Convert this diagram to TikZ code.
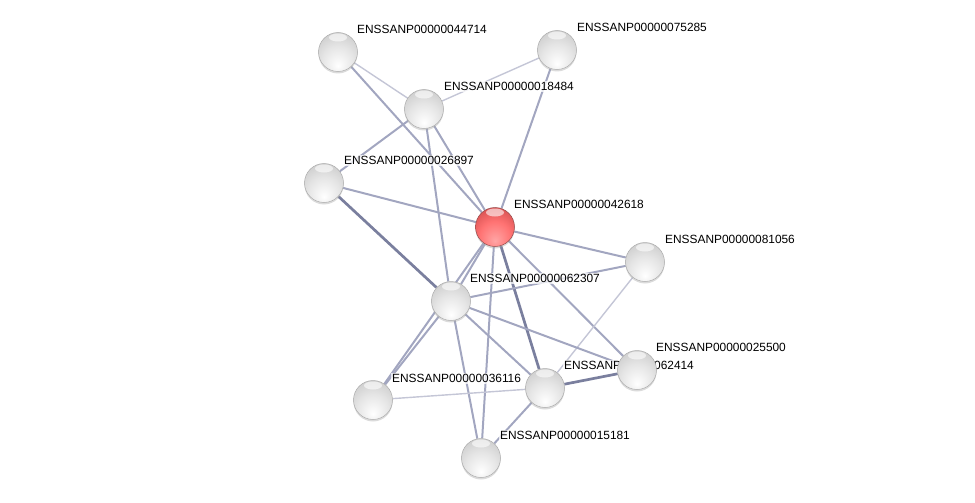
\documentclass[tikz,border=0pt]{standalone}
\usepackage{fontspec}
\setmainfont{Liberation Sans}
\usepackage{tikz}
\usetikzlibrary{backgrounds,shadows}
\definecolor{edgelight}{RGB}{196,198,214}
\definecolor{edgemid}{RGB}{162,166,192}
\definecolor{edgedark}{RGB}{122,127,158}
\pgfdeclareradialshading{greyball}{\pgfpoint{0bp}{-18bp}}{%
  color(0bp)=(white); color(20bp)=(gray!20); color(40bp)=(gray!45);
  color(55bp)=(gray!65); color(70bp)=(gray!85)}
\pgfdeclareradialshading{redball}{\pgfpoint{0bp}{-18bp}}{%
  color(0bp)=(red!35!white); color(20bp)=(red!55!white); color(40bp)=(red!65!white!80!black);
  color(55bp)=(red!60!black); color(70bp)=(red!40!black)}
\tikzset{
  prot/.style={circle, minimum size=39pt, inner sep=0pt, shading=greyball,
    draw=gray!65, line width=.5pt,
    drop shadow={shadow xshift=0pt, shadow yshift=-2pt, opacity=.4, fill=gray!70},
    path picture={\fill[white, opacity=.6] ([yshift=-5pt]path picture bounding box.north)
      ellipse (9pt and 4pt);}},
  query/.style={prot, shading=redball, draw=red!40!black!70},
  lbl/.style={anchor=west, inner sep=1pt, fill=white, fill opacity=.75, text opacity=1,
    font=\fontsize{11.9}{14}\selectfont},
  light/.style={draw=edgelight, line width=1.4pt},
  mid/.style={draw=edgemid, line width=2pt},
  dark/.style={draw=edgedark, line width=2.7pt},
}
\begin{document}
\begin{tikzpicture}[x=1pt, y=-1pt]
  \useasboundingbox (0,0) rectangle (975,503);

  % labels (under the proteins)
  \node[lbl] (tA) at (356,29.5) {ENSSANP00000044714};
  \node[lbl] (tB) at (576,27.5) {ENSSANP00000075285};
  \node[lbl] (tC) at (443,86.5) {ENSSANP00000018484};
  \node[lbl] (tD) at (343,160.5) {ENSSANP00000026897};
  \node[lbl] (tE) at (513,204.5) {ENSSANP00000042618};
  \node[lbl] (tF) at (664,239.5) {ENSSANP00000081056};
  \node[lbl] (tG) at (469,278.5) {ENSSANP00000062307};
  \node[lbl] (tI) at (563,365.5) {ENSSANP00000062414};
  \node[lbl] (tH) at (655,347.5) {ENSSANP00000025500};
  \node[lbl] (tJ) at (391,378.5) {ENSSANP00000036116};
  \node[lbl] (tK) at (499,435.5) {ENSSANP00000015181};

  % proteins
  \node[prot] (A) at (338,52) {};
  \node[prot] (B) at (557,50) {};
  \node[prot] (C) at (424,109) {};
  \node[prot] (D) at (324,183) {};
  \node[query] (E) at (495,227) {};
  \node[prot] (F) at (645,262) {};
  \node[prot] (G) at (451,301) {};
  \node[prot] (I) at (545,388) {};
  \node[prot] (H) at (637,370) {};
  \node[prot] (J) at (373,400) {};
  \node[prot] (K) at (481,458) {};

  % interactions
  \begin{scope}[on background layer]
    \draw[light] (A) -- (C);
    \draw[mid] (A) -- (E);
    \draw[light] (B) -- (C);
    \draw[mid] (B) -- (E);
    \draw[mid] (C) -- (D);
    \draw[mid] (C) -- (E);
    \draw[mid] (C) -- (G);
    \draw[mid] (D) -- (E);
    \draw[dark] (D) -- (G);
    \draw[mid] (E) -- (F);
    \draw[mid] (E) -- (G);
    \draw[mid] (E) -- (J);
    \draw[mid] (E) -- (K);
    \draw[dark] (E) -- (I);
    \draw[mid] (E) -- (H);
    \draw[mid] (F) -- (G);
    \draw[light] (F) -- (I);
    \draw[mid] (G) -- (H);
    \draw[mid] (G) -- (I);
    \draw[mid] (G) -- (K);
    \draw[mid] (G) -- (J);
    \draw[dark] (H) -- (I);
    \draw[light] (I) -- (J);
    \draw[mid] (I) -- (K);
  \end{scope}
\end{tikzpicture}
\end{document}
